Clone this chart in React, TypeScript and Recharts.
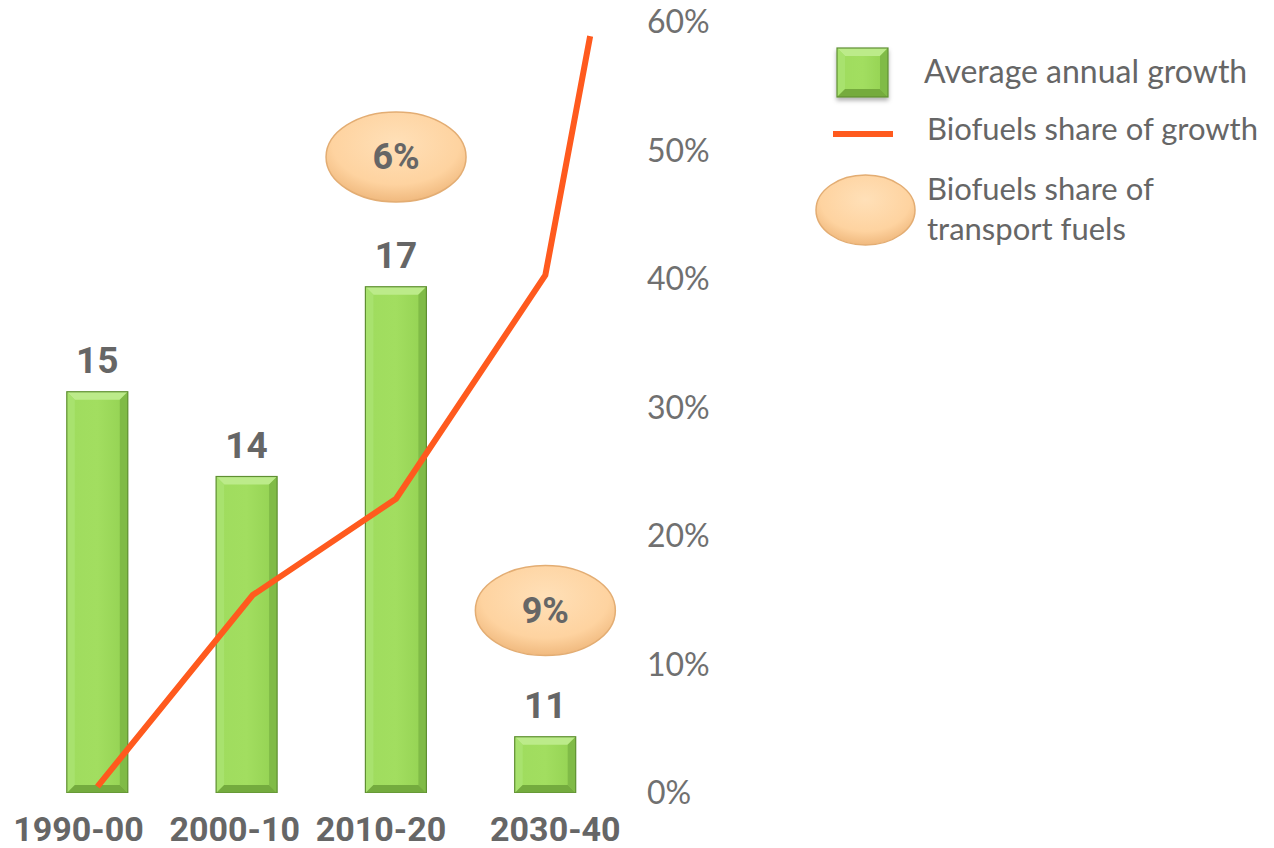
import React from 'react';
import {
  ComposedChart,
  Bar,
  Line,
  Scatter,
  XAxis,
  YAxis,
  LabelList,
  Legend,
} from 'recharts';

// periods on the x axis
const periods = ['1990-00', '2000-10', '2010-20', '2030-40'];
// average annual growth (bar heights) and the rounded labels printed over them
const growthValues = [15.45, 14.32, 16.85, 10.85];
const growthLabels = ['15', '14', '17', '11'];
// biofuels share of growth, % (line vertices; x in period units, 0 = first period)
const shareX = [0, 1.04, 2, 3, 3.3];
const shareValues = [0.5, 15.4, 22.9, 40.3, 58.9];
// biofuels share of transport fuels (ovals)
const transportX = [2, 3];
const transportY = [49.5, 14.2];
const transportLabels = ['6%', '9%'];
const pctTicks = [0, 10, 20, 30, 40, 50, 60];

const barData = periods.map((p, i) => ({ period: p, growth: growthValues[i], label: growthLabels[i] }));
const lineData = shareX.map((x, i) => ({ x, share: shareValues[i] }));
const ovalData = transportX.map((x, i) => ({ x, share: transportY[i], label: transportLabels[i] }));

const GREY = '#666666';
const BOLD_FONT = "Roboto, 'Open Sans', sans-serif";
const LIGHT_FONT = "Lato, 'Open Sans', sans-serif";
const ORANGE = '#FF5A1E';

const BevelBar = (props: any) => {
  const { x, y, width, height } = props;
  if (!height || height <= 0) return null;
  const b = Math.min(8, height / 3);
  const r = x + width;
  const btm = y + height;
  return (
    <g>
      <rect x={x} y={y} width={width} height={height} fill="url(#barFace)" />
      <polygon points={`${x},${y} ${r},${y} ${r - b},${y + b} ${x + b},${y + b}`} fill="#bceb8a" />
      <polygon points={`${x},${y} ${x + b},${y + b} ${x + b},${btm - b} ${x},${btm}`} fill="#a8e26e" />
      <polygon points={`${r},${y} ${r},${btm} ${r - b},${btm - b} ${r - b},${y + b}`} fill="#80bb47" />
      <polygon points={`${x},${btm} ${r},${btm} ${r - b},${btm - b} ${x + b},${btm - b}`} fill="#74ab3e" />
      <rect x={x} y={y} width={width} height={height} fill="none" stroke="#5f8f32" strokeWidth={1.2} />
    </g>
  );
};

const Oval = (props: any) => {
  const { cx, cy, payload } = props;
  if (cx == null || cy == null) return null;
  return (
    <g>
      <ellipse cx={cx} cy={cy} rx={70} ry={45} fill="url(#ovalFill)" stroke="#e3ad73" strokeWidth={1.5} />
      <text x={cx} y={cy + 12} textAnchor="middle" fontFamily={BOLD_FONT} fontWeight="bold" fontSize={36} fill={GREY}>
        {payload.label}
      </text>
    </g>
  );
};

const tickNudge = [-19, -12, -15, 10];

const PeriodTick = (props: any) => {
  const { x, y, payload, index } = props;
  return (
    <text x={x + (tickNudge[index] ?? 0)} y={y + 48} textAnchor="middle" fontFamily={BOLD_FONT} fontWeight="bold" fontSize={34} fill={GREY}>
      {payload.value}
    </text>
  );
};

const LegendContent = () => (
  <svg width={470} height={230} style={{ overflow: 'visible' }}>
    <defs>
      <filter id="sqShadow" x="-20%" y="-20%" width="140%" height="150%">
        <feDropShadow dx="0" dy="3" stdDeviation="2" floodColor="#000" floodOpacity="0.3" />
      </filter>
    </defs>
    <g filter="url(#sqShadow)">
      <BevelBar x={37} y={18} width={51} height={49} />
    </g>
    <text x={124} y={52.7} fontFamily={LIGHT_FONT} fontSize={32} fill={GREY}>Average annual growth</text>
    <line x1={33} x2={93} y1={104} y2={104} stroke={ORANGE} strokeWidth={6} />
    <text x={127} y={110} fontFamily={LIGHT_FONT} fontSize={31} fill={GREY}>Biofuels share of growth</text>
    <ellipse cx={65.5} cy={180} rx={49.5} ry={35} fill="url(#ovalFill)" stroke="#e3ad73" strokeWidth={1.5} />
    <text x={127} y={170} fontFamily={LIGHT_FONT} fontSize={31} fill={GREY}>Biofuels share of</text>
    <text x={127} y={210} fontFamily={LIGHT_FONT} fontSize={31} fill={GREY}>transport fuels</text>
  </svg>
);

export default function App() {
  return (
    <div style={{ position: 'absolute', left: 0, top: 0, width: 1274, height: 848, background: '#fff' }}>
      <ComposedChart data={barData} width={1274} height={848} margin={{ top: 22, right: 554, left: 22.8, bottom: 0 }}>
        <defs>
          <linearGradient id="barFace" x1="0" y1="0" x2="1" y2="0">
            <stop offset="0%" stopColor="#9fdc5e" />
            <stop offset="50%" stopColor="#a2de60" />
            <stop offset="100%" stopColor="#93d152" />
          </linearGradient>
          <radialGradient id="ovalFill" cx="50%" cy="35%" r="65%">
            <stop offset="0%" stopColor="#ffe0b8" />
            <stop offset="70%" stopColor="#fed3a0" />
            <stop offset="100%" stopColor="#f0b97e" />
          </radialGradient>
        </defs>
        <XAxis
          dataKey="period"
          type="category"
          axisLine={false}
          tickLine={false}
          tickSize={0}
          tickMargin={0}
          height={55}
          tick={<PeriodTick />}
          interval={0}
        />
        <XAxis xAxisId="num" dataKey="x" type="number" domain={[-0.5, 3.5]} allowDataOverflow hide />
        <YAxis yAxisId="growth" hide domain={[10.1, 20.38]} allowDataOverflow />
        <YAxis
          yAxisId="pct"
          orientation="right"
          domain={[0, 60]}
          ticks={pctTicks}
          width={100}
          axisLine={false}
          tickLine={false}
          tickSize={0}
          tickMargin={27}
          tickFormatter={(v: number) => `${v}%`}
          tick={{ fontFamily: LIGHT_FONT, fontSize: 32, fill: '#707070', textAnchor: 'start' }}
        />
        <Legend
          layout="horizontal"
          verticalAlign="middle"
          align="center"
          wrapperStyle={{ left: 800, top: 30, width: 474, height: 230 }}
          content={<LegendContent />}
        />
        <Bar dataKey="growth" yAxisId="growth" barSize={61} shape={<BevelBar />} isAnimationActive={false}>
          <LabelList
            dataKey="label"
            position="top"
            offset={19}
            style={{ fontFamily: BOLD_FONT, fontWeight: 'bold', fontSize: 37, fill: GREY }}
          />
        </Bar>
        <Line
          data={lineData}
          dataKey="share"
          xAxisId="num"
          yAxisId="pct"
          type="linear"
          stroke={ORANGE}
          strokeWidth={6}
          dot={false}
          activeDot={false}
          isAnimationActive={false}
        />
        <Scatter data={ovalData} dataKey="share" xAxisId="num" yAxisId="pct" shape={<Oval />} isAnimationActive={false} />
      </ComposedChart>
    </div>
  );
}
